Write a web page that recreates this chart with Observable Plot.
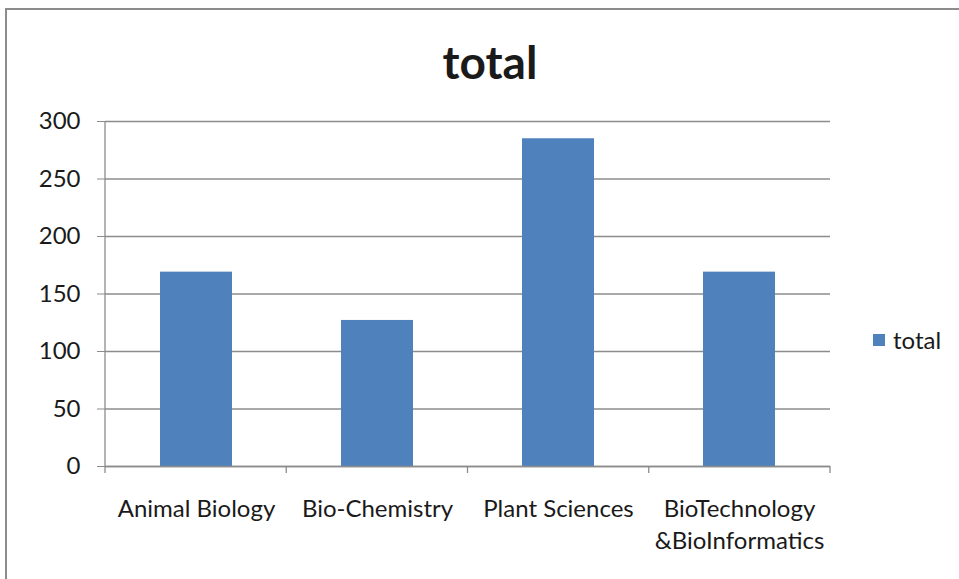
<!DOCTYPE html>
<html>
<head>
<meta charset="utf-8">
<script src="https://cdn.jsdelivr.net/npm/d3@7"></script>
<script src="https://cdn.jsdelivr.net/npm/@observablehq/plot@0.6"></script>
<style>
  html, body { margin: 0; padding: 0; background: #fff; }
  #wrap { position: relative; width: 959px; height: 579px; overflow: hidden; font-family: Lato, "Open Sans", sans-serif; color: #1a1a1a; }
  #border { position: absolute; left: 5px; top: 8px; right: -4px; bottom: -4px; border-top: 2px solid #8c8c8c; border-left: 2px solid #8c8c8c; }
  #title { position: absolute; left: 340px; width: 300px; top: 39px; text-align: center; font-size: 46px; font-weight: bold; line-height: 1; }
  #legend { position: absolute; left: 873px; top: 326px; font-size: 24px; line-height: 28px; display: flex; align-items: center; }
  #legend .sw { width: 12px; height: 12px; background: #4f81bd; margin-right: 8px; }
  #plot { position: absolute; left: 0; top: 0; }
</style>
</head>
<body>
<div id="wrap">
  <div id="border"></div>
  <div id="plot"></div>
  <div id="title">total</div>
  <div id="legend"><div class="sw"></div><span>total</span></div>
</div>
<script>
const categories = ["Animal Biology", "Bio-Chemistry", "Plant Sciences", "BioTechnology\n&BioInformatics"];
const totals = [169, 127, 285, 169];
const yTicks = [0, 50, 100, 150, 200, 250, 300];
const seriesName = "total";

const data = categories.map((c, i) => ({category: c, total: totals[i]}));

const plot = Plot.plot({
  width: 959,
  height: 579,
  marginLeft: 105,
  marginRight: 129,
  marginTop: 121,
  marginBottom: 113,
  style: {background: "transparent", fontFamily: "Lato, 'Open Sans', sans-serif", fontSize: "24px", color: "#1a1a1a"},
  x: {domain: categories, paddingInner: 0.6, paddingOuter: 0.3, label: null},
  y: {domain: [0, 300], label: null},
  marks: [
    Plot.gridY({ticks: yTicks, stroke: "#8c8c8c", strokeOpacity: 1, strokeWidth: 1.3}),
    Plot.barY(data, {x: "category", y: "total", fill: "#4f81bd"}),
    Plot.ruleY([0], {stroke: "#8c8c8c", strokeWidth: 1.3}),
    Plot.axisY({ticks: yTicks, tickSize: 8, tickPadding: 17, stroke: "#8c8c8c", fill: "#1a1a1a", fontSize: 24, label: null}),
    Plot.axisX({tickSize: 0, tickPadding: 27, fontSize: 24, fill: "#1a1a1a", lineHeight: 1.35, label: null})
  ]
});
document.getElementById("plot").appendChild(plot);

// category boundary tick marks and the vertical axis line, from the plot's own scales
const sx = plot.scale("x");
const sy = plot.scale("y");
const band = d3.scaleBand().domain(sx.domain).range(sx.range)
  .paddingInner(sx.paddingInner ?? 0.6).paddingOuter(sx.paddingOuter ?? 0.3);
const step = band.step();
const bounds = sx.domain.map(d => band(d) + band.bandwidth() / 2 - step / 2);
bounds.push(band(sx.domain[sx.domain.length - 1]) + band.bandwidth() / 2 + step / 2);
const ylin = d3.scaleLinear().domain(sy.domain).range(sy.range);
const svg = d3.select(plot.tagName.toLowerCase() === "svg" ? plot : plot.querySelector("svg"));
const g = svg.append("g").attr("stroke", "#8c8c8c").attr("stroke-width", 1.3);
g.selectAll("line.bt").data(bounds).join("line")
  .attr("x1", d => d).attr("x2", d => d)
  .attr("y1", ylin(0)).attr("y2", ylin(0) + 7);
g.append("line")
  .attr("x1", bounds[0]).attr("x2", bounds[0])
  .attr("y1", ylin(300)).attr("y2", ylin(0));
</script>
</body>
</html>
